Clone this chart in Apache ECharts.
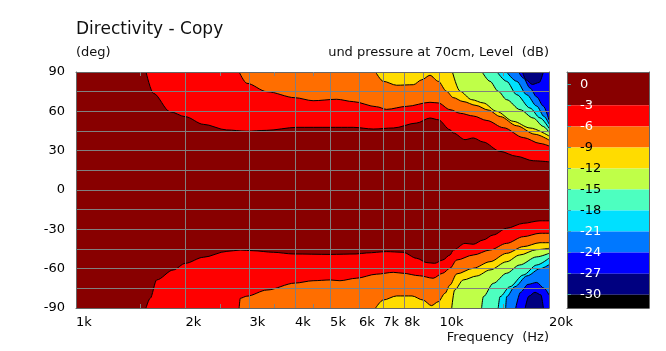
<!DOCTYPE html>
<html>
<head>
<meta charset="utf-8">
<script src="https://cdn.jsdelivr.net/npm/echarts@6/dist/echarts.min.js"></script>
<style>
html, body { margin: 0; padding: 0; background: #fff; }
#chart { width: 666px; height: 351px; }
</style>
</head>
<body>
<div id="chart"></div>
<script>
// axis ticks / labels
var freqTicks = [1000, 2000, 3000, 4000, 5000, 6000, 7000, 8000, 10000, 20000];
var freqLabels = ['1k', '2k', '3k', '4k', '5k', '6k', '7k', '8k', '10k', '20k'];
var freqGrid = [2000, 3000, 4000, 5000, 6000, 7000, 8000, 9000, 10000];
var freqMinor = [1500, 2500, 3500, 4500, 15000];
var angleGrid = [-75, -60, -45, -30, -15, 0, 15, 30, 45, 60, 75];

// colour scale (dB)
var levels = [0, -3, -6, -9, -12, -15, -18, -21, -24, -27, -30];
var levelColors = ['#880000', '#ff0000', '#ff6e00', '#ffdc00', '#bfff48', '#4dffc0', '#00e0ff', '#0078ff', '#0000ff', '#000080', '#000000'];
var levelTextColors = ['#fff', '#fff', '#fff', '#000', '#000', '#000', '#000', '#fff', '#fff', '#fff', '#fff'];
var scaleTop = 1.76, scaleBottom = -31.9;

// contour lines, upper half [freq Hz, angle deg]
var up3 = [[1558, 90], [1632, 73.8], [1814, 59.7], [2000, 55.9], [2240, 50.1], [2597, 45.8], [2948, 44.8], [3346, 45.5], [4046, 47.8], [5000, 47.8], [5790, 47.8], [6570, 46.5], [7460, 47.3], [8650, 51.1], [9410, 54.9], [9920, 53.6], [10680, 46], [10910, 43.5], [11750, 38.4], [12380, 39.7], [13190, 36.6], [14660, 29.5], [16300, 25.7], [18100, 22.3], [20000, 21.5]];
var up6 = [[2810, 90], [2950, 81.4], [3350, 75], [4000, 70.4], [4490, 68.1], [5210, 69.2], [5790, 67.4], [6710, 63.5], [7150, 61.5], [8120, 63.8], [9410, 66.9], [9920, 66.4], [10680, 61.3], [11400, 58.5], [12400, 56.4], [13500, 53], [15000, 47.5], [17000, 40], [18900, 35.5], [20000, 33.6]];
var up9 = [[6670, 90], [7000, 82.9], [7620, 79.9], [8470, 80.3], [8940, 84.1], [9410, 87.5], [9920, 82.9], [10450, 75.3], [10900, 70.5], [11600, 67.5], [12600, 64.5], [13600, 61], [14700, 56], [16300, 49], [18300, 42.5], [20000, 38.1]];
var up12 = [[10850, 90], [11380, 75.3], [12260, 68.9], [13190, 66.4], [14350, 60], [15950, 52.4], [17730, 47.3], [20000, 41.2]];
var up15 = [[13100, 90], [13760, 82.9], [14500, 75.3], [15290, 68.9], [16640, 61.3], [18100, 54.9], [19290, 48.5], [20000, 44]];
var up18 = [[14400, 90], [15290, 82.9], [16300, 72.7], [17730, 62.5], [18890, 55], [20000, 47]];
var up21 = [[15300, 90], [16300, 82.9], [17360, 72.7], [18500, 64], [19400, 56], [20000, 50.3]];
var up24 = [[16500, 90], [17000, 85.4], [17730, 77.8], [18500, 71], [19290, 64], [20000, 53.4]];
var up27 = [[16900, 90], [17300, 84], [18000, 80.5], [18800, 82], [19300, 90]];

// contour lines, lower half
var low3 = [[1558, -90], [1600, -82.6], [1667, -68.6], [1850, -61], [2000, -55.9], [2240, -51.3], [2600, -46.8], [2830, -45.8], [3070, -46.3], [3490, -47.5], [3960, -48.8], [5000, -49.1], [5900, -48.8], [6300, -48], [7150, -47], [7930, -47.5], [8650, -52.1], [9230, -55.4], [9700, -55.9], [10200, -53.4], [10680, -49.6], [10910, -45.8], [11750, -40.7], [12380, -41.4], [13190, -38.1], [14050, -34.3], [15290, -29.2], [17000, -25.4], [18890, -23.5], [20000, -23.5]];
var low6 = [[2810, -90], [2830, -82.6], [2950, -81], [3350, -76.3], [4000, -71], [4490, -69.2], [5000, -68.6], [5320, -69.2], [5900, -67.3], [6710, -64.2], [7460, -62.8], [7930, -63.5], [8800, -65.4], [9600, -67.3], [10200, -63.5], [10680, -59.7], [11150, -53.4], [12380, -49.6], [13760, -45.8], [15290, -40.7], [17000, -35.6], [18890, -33], [20000, -33]];
var low9 = [[6670, -90], [7000, -83.9], [7620, -80.8], [8400, -80.8], [9000, -83.9], [9500, -88.2], [9920, -85.2], [10350, -78.8], [10680, -72.5], [11150, -64], [12380, -59.7], [13760, -54.7], [15290, -48.3], [17000, -43.2], [18890, -40.2], [20000, -40.2]];
var low12 = [[10800, -90], [11000, -76.3], [11620, -68.6], [12650, -65.6], [13760, -61], [15300, -54.7], [16600, -49.6], [18500, -45.5], [20000, -44.5]];
var low15 = [[13050, -90], [13190, -81.4], [14050, -71.2], [15290, -63.5], [16600, -57.2], [18500, -51], [20000, -48.3]];
var low18 = [[14500, -90], [14660, -81.4], [15600, -73.8], [17000, -64.8], [18500, -57.2], [20000, -52]];
var low21 = [[15200, -90], [15290, -81.4], [16100, -73.8], [17400, -65.5], [18900, -60], [20000, -57]];
var low24 = [[16200, -90], [16700, -78], [17500, -72], [18500, -70.5], [19400, -75], [20000, -80]];
var low27 = [[17200, -90], [17600, -81], [18300, -78], [19000, -80], [19300, -90]];

var upper = [up3, up6, up9, up12, up15, up18, up21, up24, up27];
var lower = [low3, low6, low9, low12, low15, low18, low21, low24, low27];

var font = 'DejaVu Sans, Verdana, sans-serif';
var gridGray = '#808080';

function contour(data, color, origin) {
	return {
		type: 'line',
		xAxisIndex: 0,
		yAxisIndex: 0,
		data: data,
		symbol: 'none',
		smooth: 0.3,
		smoothMonotone: 'x',
		lineStyle: { color: '#000', width: 1 },
		areaStyle: { color: color, opacity: 1, origin: origin },
		silent: true,
		z: 2
	};
}

var series = [];
upper.forEach(function (d, i) { series.push(contour(d, levelColors[i + 1], 'end')); });
lower.forEach(function (d, i) { series.push(contour(d, levelColors[i + 1], 'start')); });

// grid lines over the fill
series.push({
	type: 'line',
	xAxisIndex: 0,
	yAxisIndex: 0,
	data: [[1000, 0]],
	symbol: 'none',
	lineStyle: { opacity: 0 },
	silent: true,
	z: 5,
	markLine: {
		silent: true,
		symbol: ['none', 'none'],
		label: { show: false },
		lineStyle: { color: gridGray, width: 1, type: 'solid' },
		data: freqGrid.map(function (f) { return { xAxis: f }; })
			.concat(angleGrid.map(function (a) { return { yAxis: a }; }))
	}
});

// colour bar
var bands = [];
for (var i = 0; i < levels.length; i++) {
	var hi = i === 0 ? scaleTop : levels[i];
	var lo = i === levels.length - 1 ? scaleBottom : levels[i + 1];
	bands.push([{ yAxis: hi, itemStyle: { color: levelColors[i] } }, { yAxis: lo }]);
}
series.push({
	type: 'line',
	xAxisIndex: 2,
	yAxisIndex: 2,
	data: [[0, 0]],
	symbol: 'none',
	lineStyle: { opacity: 0 },
	silent: true,
	markArea: { silent: true, data: bands }
});

var axisLine = { show: true, onZero: false, lineStyle: { color: '#666', width: 1 } };

var option = {
	animation: false,
	backgroundColor: '#fff',
	textStyle: { fontFamily: font },
	grid: [
		{ left: 76, right: 117, top: 72, bottom: 43, show: true, backgroundColor: '#880000', borderWidth: 0 },
		{ left: 567, width: 82, top: 72, bottom: 43, show: false }
	],
	xAxis: [
		{
			gridIndex: 0, type: 'log', min: 1000, max: 20000, position: 'bottom', z: 10,
			axisLine: axisLine,
			axisTick: { show: true, inside: true, length: 4, customValues: freqMinor, lineStyle: { color: gridGray } },
			splitLine: { show: false },
			axisLabel: {
				customValues: freqTicks, align: 'left', margin: 8, color: '#000', fontSize: 13, fontFamily: font,
				formatter: function (v) { return freqLabels[freqTicks.indexOf(Math.round(v))] || ''; }
			}
		},
		{
			gridIndex: 0, type: 'log', min: 1000, max: 20000, position: 'top', z: 10,
			axisLine: axisLine,
			axisTick: { show: true, inside: true, length: 4, customValues: freqMinor, lineStyle: { color: gridGray } },
			splitLine: { show: false },
			axisLabel: { show: false }
		},
		{ gridIndex: 1, type: 'value', min: 0, max: 1, position: 'bottom', z: 10, axisLine: axisLine, axisTick: { show: false }, axisLabel: { show: false }, splitLine: { show: false } },
		{ gridIndex: 1, type: 'value', min: 0, max: 1, position: 'top', z: 10, axisLine: axisLine, axisTick: { show: false }, axisLabel: { show: false }, splitLine: { show: false } }
	],
	yAxis: [
		{
			gridIndex: 0, type: 'value', min: -90, max: 90, interval: 30, position: 'left', z: 10,
			axisLine: axisLine, axisTick: { show: false }, splitLine: { show: false },
			axisLabel: { color: '#000', fontSize: 13, fontFamily: font, margin: 11 }
		},
		{
			gridIndex: 0, type: 'value', min: -90, max: 90, interval: 30, position: 'right', z: 10,
			axisLine: axisLine, axisTick: { show: false }, splitLine: { show: false }, axisLabel: { show: false }
		},
		{
			gridIndex: 1, type: 'value', min: scaleBottom, max: scaleTop, position: 'left', z: 10,
			axisLine: axisLine,
			axisTick: { show: true, inside: true, length: 4, customValues: levels, lineStyle: { color: '#4a9a9a' } },
			splitLine: { show: false },
			axisLabel: {
				inside: true, margin: 13, fontSize: 13, fontFamily: font, customValues: levels,
				formatter: function (v) { return String(Math.round(v)); },
				color: function (v) { return levelTextColors[levels.indexOf(Math.round(v))] || '#000'; }
			}
		},
		{
			gridIndex: 1, type: 'value', min: scaleBottom, max: scaleTop, position: 'right', z: 10,
			axisLine: axisLine, axisTick: { show: false }, splitLine: { show: false }, axisLabel: { show: false }
		}
	],
	graphic: [
		{ type: 'text', left: 76, top: 21, style: { text: 'Directivity - Copy', fontSize: 17, fontFamily: font, fill: '#111' } },
		{ type: 'text', left: 76, top: 46, style: { text: '(deg)', fontSize: 13, fontFamily: font, fill: '#111' } },
		{ type: 'text', right: 117, top: 46, style: { text: 'und pressure at 70cm, Level  (dB)', fontSize: 13, fontFamily: font, fill: '#111' } },
		{ type: 'text', right: 117, top: 331, style: { text: 'Frequency  (Hz)', fontSize: 13, fontFamily: font, fill: '#111' } }
	],
	series: series
};

var myChart = echarts.init(document.getElementById('chart'));
myChart.setOption(option);
</script>
</body>
</html>
